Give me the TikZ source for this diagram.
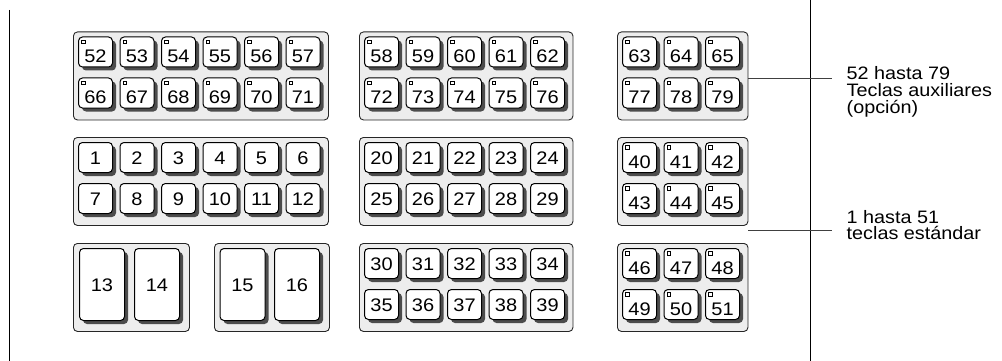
\documentclass[tikz,border=0pt]{standalone}
\usepackage{fontspec}
\setmainfont[FakeStretch=1.1]{Liberation Sans}
\usetikzlibrary{shadows}
\newcommand\keyfont{\fontsize{18.2}{18.2}\selectfont}
\newcommand\labelfont{\fontsize{18}{16.7}\selectfont}
\newcommand\KeyPanel[7]{%
  \pgfmathsetmacro\pw{#4*41.5+6}
  \node[panel, minimum width=\pw pt] (#1) at (#2,#3) {};
  \foreach \i in {1,...,#4} {
    \pgfmathtruncatemacro\na{#5+\i-1}
    \pgfmathtruncatemacro\nb{#6+\i-1}
    \node[#7] (k\na) at ({#2+5+(\i-1)*41.5},{#3+5}) {\na};
    \node[#7] (k\nb) at ({#2+5+(\i-1)*41.5},{#3+46}) {\nb};
  }
}
\tikzset{
  panel/.style={draw=black!85, fill=black!7, rounded corners=4pt, line width=0.9pt,
    anchor=north west, inner sep=0pt, minimum height=88pt},
  keybase/.style={draw=black, fill=white, rounded corners=4pt, line width=1pt,
    anchor=north west, inner sep=0pt, minimum width=34pt, minimum height=30pt,
    font=\keyfont,
    drop shadow={shadow xshift=3.5pt, shadow yshift=-3.5pt, fill=black!70, opacity=1}},
  plainkey/.style={keybase, text height=13pt, text depth=0pt},
  auxkey/.style={keybase, text height=21.4pt, text depth=0pt,
    path picture={\draw[sharp corners, line width=0.5pt, fill=white]
      ([xshift=2.8pt,yshift=-2.8pt]path picture bounding box.north west)
      rectangle ++(3.6pt,-3.6pt);}},
  bigkey/.style={keybase, minimum width=45pt, minimum height=72pt,
    text height=13pt, text depth=0pt},
  connector/.style={draw=black!75, line width=0.9pt},
  rule/.style={draw=black, line width=0.9pt},
  caption/.style={anchor=north west, inner sep=0pt, align=left, font=\labelfont}
}
\begin{document}
\begin{tikzpicture}[x=1pt, y=-1pt]
\useasboundingbox (0,0) rectangle (1002,361);
% vertical rules
\coordinate (vlt) at (9,10);
\coordinate (vlb) at (9,361);
\coordinate (vrt) at (810,0);
\coordinate (vrb) at (810,361);
\draw[rule] (vlt) -- (vlb);
\draw[rule] (vrt) -- (vrb);
% top row (auxiliary keys)
\KeyPanel{pA}{73}{31.5}{6}{52}{66}{auxkey}
\KeyPanel{pB}{359}{31.5}{5}{58}{72}{auxkey}
\KeyPanel{pC}{617}{31.5}{3}{63}{77}{auxkey}
% middle row
\KeyPanel{pD}{73}{137}{6}{1}{7}{plainkey}
\KeyPanel{pE}{359}{137}{5}{20}{25}{plainkey}
\KeyPanel{pF}{617}{137}{3}{40}{43}{auxkey}
% bottom row
\node[panel, minimum width=116pt] (pG) at (73,243) {};
\node[bigkey] (k13) at (79,248) {13};
\node[bigkey] (k14) at (134,248) {14};
\node[panel, minimum width=115pt] (pH) at (214,243) {};
\node[bigkey] (k15) at (219.5,248) {15};
\node[bigkey] (k16) at (274,248) {16};
\KeyPanel{pI}{359}{243}{5}{30}{35}{plainkey}
\KeyPanel{pJ}{617}{243}{3}{46}{49}{auxkey}
% connectors and captions
\coordinate (c1end) at (832,78);
\coordinate (c2end) at (832,230);
\draw[connector] (pC.east |- c1end) -- (c1end);
\draw[connector] (pF.south east |- c2end) -- (c2end);
\node[caption] (cap1) at (846.5,66.5) {52 hasta 79\\Teclas auxiliares\\(opción)};
\node[caption] (cap2) at (846.5,210) {1 hasta 51\\teclas estándar};
\end{tikzpicture}
\end{document}
